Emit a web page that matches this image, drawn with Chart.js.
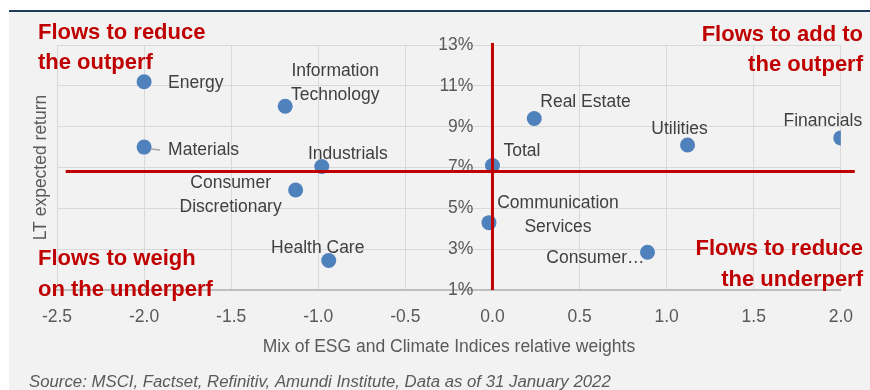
<!DOCTYPE html>
<html>
<head>
<meta charset="utf-8">
<script src="https://cdn.jsdelivr.net/npm/chart.js@4.4.1/dist/chart.umd.min.js"></script>
<style>
  body { margin: 0; background: #fff; }
</style>
</head>
<body>
<canvas id="flows" width="870" height="390"></canvas>
<script>
// sector labels (as printed), relative weight in the ESG/Climate mix, LT expected return in %
var sectors = ["Energy", ["Information", "Technology"], "Materials", "Industrials",
               ["Consumer", "Discretionary"], "Health Care", "Total",
               ["Communication", "Services"], "Real Estate", "Utilities", "Financials", "Consumer\u2026"];
var relWeight = [-2.0, -1.19, -2.0, -0.98, -1.13, -0.94, 0.0, -0.02, 0.24, 1.12, 2.0, 0.89];
var expReturn = [11.2, 10.0, 8.0, 7.05, 5.9, 2.45, 7.1, 4.3, 9.4, 8.1, 8.45, 2.85];

// quadrant dividers
var returnDivider = 6.8;
var weightDivider = 0;
var dividerSpanX = [-2.45, 2.08];
var dividerSpanY = [1, 13.1];

var sourceNote = "Source: MSCI, Factset, Refinitiv, Amundi Institute, Data as of 31 January 2022";

var sans = "'Liberation Sans', Arial, sans-serif";
var grey = '#595959';

// where each sector name sits relative to its dot
var labelPlacement = [
  {dx: 24, dy: 1, align: 'left'},
  {dx: 50, dy: -35, align: 'center'},
  {dx: 24, dy: 3, align: 'left', leader: true},
  {dx: 26, dy: -12, align: 'center'},
  {dx: -65, dy: -7, align: 'center'},
  {dx: -11, dy: -12, align: 'center'},
  {dx: 11, dy: -14, align: 'left'},
  {dx: 69, dy: -19, align: 'center'},
  {dx: 6, dy: -16, align: 'left'},
  {dx: -8, dy: -16, align: 'center'},
  {dx: -18, dy: -17, align: 'center'},
  {dx: -3, dy: 6, align: 'right'}
];

var quadrantNotes = [
  {lines: ["Flows to reduce", "the outperf"], x: 38, y: 38.5, align: 'left'},
  {lines: ["Flows to add to", "the outperf"], x: 863, y: 40.5, align: 'right'},
  {lines: ["Flows to weigh", "on the underperf"], x: 38, y: 265, align: 'left'},
  {lines: ["Flows to reduce", "the underperf"], x: 863, y: 255, align: 'right'}
];

var points = relWeight.map(function(w, i) { return {x: w, y: expReturn[i]}; });

var backdrop = {
  id: 'backdrop',
  beforeDraw: function(chart) {
    var ctx = chart.ctx;
    ctx.save();
    ctx.fillStyle = '#ffffff';
    ctx.fillRect(0, 0, chart.width, chart.height);
    ctx.fillStyle = '#f2f2f2';
    ctx.fillRect(9, 12, chart.width - 9, chart.height - 12);
    ctx.fillStyle = '#1f3b5c';
    ctx.fillRect(9, 10, chart.width - 9, 2);
    ctx.restore();
  }
};

var pointLabels = {
  id: 'pointLabels',
  afterDatasetsDraw: function(chart) {
    var ctx = chart.ctx;
    var meta = chart.getDatasetMeta(0);
    ctx.save();
    ctx.font = '17.5px ' + sans;
    ctx.fillStyle = '#404040';
    ctx.textBaseline = 'middle';
    meta.data.forEach(function(pt, i) {
      var p = labelPlacement[i];
      ctx.textAlign = p.align;
      [].concat(sectors[i]).forEach(function(line, k) {
        ctx.fillText(line, pt.x + p.dx, pt.y + p.dy + k * 24);
      });
      if (p.leader) {
        ctx.strokeStyle = '#a6a6a6';
        ctx.lineWidth = 1.5;
        ctx.beginPath();
        ctx.moveTo(pt.x + 7, pt.y + 2);
        ctx.lineTo(pt.x + 16, pt.y + 3);
        ctx.stroke();
      }
    });
    ctx.restore();
  }
};

var quadrantText = {
  id: 'quadrantText',
  afterDraw: function(chart) {
    var ctx = chart.ctx;
    ctx.save();
    ctx.font = 'bold 22px ' + sans;
    ctx.fillStyle = '#c00000';
    ctx.textBaseline = 'alphabetic';
    quadrantNotes.forEach(function(n) {
      ctx.textAlign = n.align;
      n.lines.forEach(function(line, k) {
        ctx.fillText(line, n.x, n.y + k * 30.5);
      });
    });
    ctx.restore();
  }
};

new Chart(document.getElementById('flows'), {
  type: 'scatter',
  data: {
    datasets: [
      {
        data: points,
        backgroundColor: '#4f81bd',
        borderWidth: 0,
        pointRadius: 7.5,
        pointHoverRadius: 7.5,
        order: 1
      },
      {
        data: [{x: dividerSpanX[0], y: returnDivider}, {x: dividerSpanX[1], y: returnDivider}],
        showLine: true,
        borderColor: '#c00000',
        borderWidth: 3,
        pointRadius: 0,
        clip: false,
        order: 0
      },
      {
        data: [{x: weightDivider, y: dividerSpanY[0]}, {x: weightDivider, y: dividerSpanY[1]}],
        showLine: true,
        borderColor: '#c00000',
        borderWidth: 3,
        pointRadius: 0,
        clip: false,
        order: 0
      }
    ]
  },
  options: {
    responsive: false,
    animation: false,
    events: [],
    layout: { padding: { left: 29, right: 28, top: 45, bottom: 0 } },
    plugins: {
      legend: { display: false },
      tooltip: { enabled: false },
      subtitle: {
        display: true,
        position: 'bottom',
        align: 'start',
        text: sourceNote,
        color: grey,
        padding: 0,
        font: { family: sans, size: 16.8, style: 'italic', lineHeight: 0.95 }
      }
    },
    scales: {
      x: {
        type: 'linear',
        min: -2.5,
        max: 2.0,
        ticks: {
          stepSize: 0.5,
          padding: 17,
          color: grey,
          font: { family: sans, size: 17.5 },
          callback: function(v) { return v.toFixed(1); }
        },
        grid: { color: '#d9d9d9', drawTicks: false },
        border: { color: '#bfbfbf', width: 2 },
        title: {
          display: true,
          text: 'Mix of ESG and Climate Indices relative weights',
          color: grey,
          padding: { top: 0, bottom: 16 },
          font: { family: sans, size: 17.5 }
        },
        afterFit: function(s) { s.height = 84; }
      },
      y: {
        type: 'linear',
        min: 1,
        max: 13,
        // tick labels hang just left of the zero line
        position: { x: -0.11 },
        ticks: {
          stepSize: 2,
          color: grey,
          font: { family: sans, size: 17.5 },
          callback: function(v) { return v + '%'; }
        },
        grid: { color: '#d9d9d9', drawTicks: false },
        border: { display: false }
      },
      yTitle: {
        type: 'linear',
        position: 'left',
        min: 0,
        max: 1,
        ticks: { display: false },
        grid: { display: false },
        border: { display: false },
        title: {
          display: true,
          text: 'LT expected return',
          color: grey,
          padding: { top: 2, bottom: 0 },
          font: { family: sans, size: 17.5 }
        },
        afterFit: function(s) { s.width = 28; }
      }
    }
  },
  plugins: [backdrop, pointLabels, quadrantText]
});
</script>
</body>
</html>
